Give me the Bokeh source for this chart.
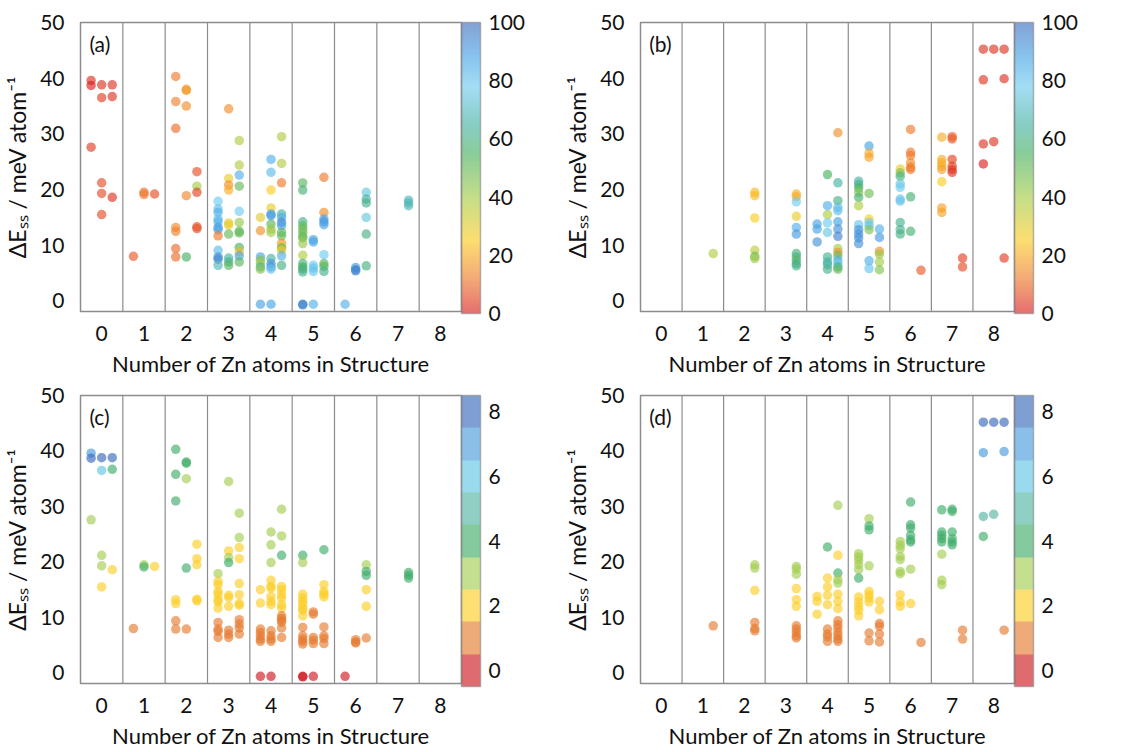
from bokeh.plotting import figure
from bokeh.models import (ColumnDataSource, LinearColorMapper, ColorBar, FixedTicker,
                          Span, Label, Range1d)
from bokeh.layouts import row, column
from bokeh.embed import file_html
from bokeh.resources import INLINE

# ---------------- data: panels (a) and (c) share positions ----------------
ac_zn = [
    0, 0, 0, 0, 0, 0, 0, 0, 0, 0, 0,
    1, 1, 1, 1,
    2, 2, 2, 2, 2, 2, 2, 2, 2, 2, 2, 2, 2, 2, 2, 2, 2,
    3, 3, 3, 3, 3, 3, 3, 3, 3, 3, 3, 3,
    3, 3, 3, 3, 3, 3, 3, 3, 3, 3,
    3, 3, 3, 3, 3, 3, 3, 3, 3, 3, 3, 3,
    4, 4, 4, 4, 4, 4, 4, 4,
    4, 4, 4, 4, 4, 4, 4, 4, 4, 4, 4, 4, 4, 4,
    4, 4, 4, 4, 4, 4, 4, 4, 4, 4, 4, 4, 4, 4, 4,
    5, 5, 5, 5, 5, 5, 5, 5, 5, 5, 5, 5, 5, 5, 5, 5,
    5, 5, 5, 5, 5, 5,
    5, 5, 5, 5, 5, 5, 5, 5, 5,
    6, 6, 6, 6, 6, 6, 6, 6, 6, 6,
    7, 7, 7,
]
ac_off = [
    -1, -1, -1, 0, 0, 0, 0, 0, 1, 1, 1,
    -1, 0, 0, 1,
    -1, -1, -1, -1, -1, -1, -1, 0, 0, 0, 0, 0, 1, 1, 1, 1, 1,
    -1, -1, -1, -1, -1, -1, -1, -1, -1, -1, -1, -1,
    0, 0, 0, 0, 0, 0, 0, 0, 0, 0,
    1, 1, 1, 1, 1, 1, 1, 1, 1, 1, 1, 1,
    -1, -1, -1, -1, -1, -1, -1, -1,
    0, 0, 0, 0, 0, 0, 0, 0, 0, 0, 0, 0, 0, 0,
    1, 1, 1, 1, 1, 1, 1, 1, 1, 1, 1, 1, 1, 1, 1,
    -1, -1, -1, -1, -1, -1, -1, -1, -1, -1, -1, -1, -1, -1, -1, -1,
    0, 0, 0, 0, 0, 0,
    1, 1, 1, 1, 1, 1, 1, 1, 1,
    -1, 0, 0, 0, 1, 1, 1, 1, 1, 1,
    1, 1, 1,
]
ac_e = [
    39.6, 38.7, 27.6, 38.8, 36.5, 21.2, 19.3, 15.5, 38.8, 36.7, 18.6,
    8.0, 19.5, 19.1, 19.2,
    40.3, 35.8, 31.0, 13.2, 12.5, 9.4, 7.9, 38.0, 37.8, 35.0, 18.9, 7.9, 23.2, 20.6, 19.5, 13.3, 13.0,
    17.9, 16.5, 15.9, 14.7, 14.2, 13.2, 12.8, 11.7, 9.1, 7.9, 7.5, 6.4,
    34.5, 22.0, 20.8, 19.9, 14.0, 13.6, 12.0, 7.7, 7.0, 6.4,
    28.8, 24.4, 22.6, 20.6, 16.1, 14.1, 12.5, 12.2, 9.6, 8.8, 8.1, 7.0,
    15.0, 12.6, 7.9, 7.3, 6.7, 6.1, 5.7, -0.6,
    25.4, 23.1, 19.9, 16.7, 15.6, 15.3, 13.8, 12.9, 12.3, 7.6, 6.7, 6.1, 5.7, -0.6,
    29.5, 24.7, 21.2, 15.6, 15.0, 14.1, 13.5, 12.3, 11.7, 10.3, 9.8, 9.5, 9.1, 8.1, 6.4,
    21.2, 19.9, 14.2, 13.5, 12.9, 12.3, 11.6, 11.3, 10.3, 8.2, 6.7, 6.1, 5.7, 5.2, -0.6, -0.7,
    11.0, 10.6, 6.4, 5.9, 5.3, -0.6,
    22.2, 15.9, 14.7, 14.2, 13.7, 8.3, 6.7, 6.2, 5.3,
    -0.6, 6.0, 5.6, 5.4, 19.5, 18.3, 17.6, 15.0, 12.0, 6.3,
    18.1, 17.6, 17.1,
]
ac_pct = [
    3, 0, 4, 3, 4, 6, 6, 6, 3, 3, 3,
    8, 10, 12, 6,
    12, 13, 10, 14, 13, 10, 10, 16, 17, 15, 14, 55, 6, 40, 5, 7, 7,
    78, 82, 85, 82, 85, 90, 88, 12, 82, 92, 95, 68,
    15, 28, 15, 20, 30, 28, 50, 65, 62, 52,
    38, 38, 85, 50, 78, 42, 52, 50, 55, 22, 88, 52,
    30, 15, 88, 45, 40, 65, 45, 88,
    85, 82, 25, 28, 88, 90, 52, 42, 40, 65, 90, 92, 80, 88,
    38, 38, 12, 65, 85, 95, 88, 52, 50, 15, 25, 60, 25, 85, 60,
    52, 58, 62, 50, 50, 48, 50, 48, 42, 38, 60, 55, 55, 62, 95, 95,
    88, 88, 78, 80, 80, 85,
    12, 15, 88, 92, 88, 78, 52, 52, 62,
    85, 90, 95, 95, 75, 65, 62, 75, 60, 60,
    68, 68, 68,
]
ac_n = [
    7, 8, 3, 8, 6, 3, 3, 2, 8, 4, 2,
    1, 3, 4, 2,
    4, 4, 4, 2, 2, 1, 1, 4, 4, 3, 4, 1, 2, 2, 2, 2, 2,
    3, 2, 2, 2, 2, 2, 2, 2, 1, 1, 1, 1,
    3, 2, 3, 4, 2, 2, 2, 1, 1, 1,
    3, 3, 2, 2, 2, 2, 2, 2, 1, 1, 1, 1,
    2, 2, 1, 1, 1, 1, 1, 0,
    3, 3, 3, 2, 2, 2, 2, 2, 2, 1, 1, 1, 1, 0,
    3, 3, 4, 2, 2, 2, 2, 2, 2, 1, 1, 1, 1, 1, 1,
    4, 3, 2, 2, 2, 2, 2, 2, 2, 1, 1, 1, 1, 1, 0, 0,
    1, 1, 1, 1, 1, 0,
    4, 2, 2, 2, 2, 1, 1, 1, 1,
    0, 1, 1, 1, 3, 4, 4, 2, 2, 1,
    4, 4, 4,
]

# ---------------- data: panels (b) and (d) share positions ----------------
bd_zn = [
    1,
    2, 2, 2, 2, 2, 2,
    3, 3, 3, 3, 3, 3, 3, 3, 3, 3, 3,
    4, 4, 4,
    4, 4, 4, 4, 4, 4, 4, 4, 4,
    4, 4, 4, 4, 4, 4, 4, 4, 4, 4, 4, 4, 4, 4, 4,
    5, 5, 5, 5, 5, 5, 5, 5, 5, 5, 5,
    5, 5, 5, 5, 5, 5, 5, 5, 5, 5,
    5, 5, 5, 5, 5, 5,
    6, 6, 6, 6, 6, 6, 6, 6, 6, 6,
    6, 6, 6, 6, 6, 6, 6, 6,
    6,
    7, 7, 7, 7, 7, 7, 7, 7,
    7, 7, 7, 7, 7, 7,
    7, 7,
    8, 8, 8, 8,
    8, 8,
    8, 8, 8,
]
bd_off = [
    1,
    1, 1, 1, 1, 1, 1,
    1, 1, 1, 1, 1, 1, 1, 1, 1, 1, 1,
    -1, -1, -1,
    0, 0, 0, 0, 0, 0, 0, 0, 0,
    1, 1, 1, 1, 1, 1, 1, 1, 1, 1, 1, 1, 1, 1, 1,
    -1, -1, -1, -1, -1, -1, -1, -1, -1, -1, -1,
    0, 0, 0, 0, 0, 0, 0, 0, 0, 0,
    1, 1, 1, 1, 1, 1,
    -1, -1, -1, -1, -1, -1, -1, -1, -1, -1,
    0, 0, 0, 0, 0, 0, 0, 0,
    1,
    -1, -1, -1, -1, -1, -1, -1, -1,
    0, 0, 0, 0, 0, 0,
    1, 1,
    -1, -1, -1, -1,
    0, 0,
    1, 1, 1,
]
bd_e = [
    8.5,
    19.5, 18.9, 14.9, 9.1, 8.0, 7.6,
    19.2, 18.7, 17.8, 15.2, 13.2, 12.0, 8.5, 7.9, 7.3, 6.7, 6.3,
    13.8, 12.9, 10.6,
    22.7, 17.1, 15.5, 14.0, 12.3, 7.9, 7.0, 6.5, 5.7,
    30.2, 21.2, 18.0, 16.8, 16.2, 14.2, 12.9, 11.6, 9.4, 8.7, 8.1, 7.3, 6.7, 6.1, 5.7,
    21.5, 20.9, 20.3, 19.5, 18.6, 17.1, 13.7, 12.8, 12.0, 11.3, 10.3,
    27.8, 26.5, 25.8, 19.3, 14.7, 14.1, 13.5, 12.8, 7.2, 5.8,
    12.9, 11.4, 8.9, 8.4, 7.0, 5.6,
    23.7, 23.0, 22.4, 21.0, 20.4, 18.3, 17.9, 14.1, 12.8, 12.0,
    30.8, 26.7, 26.1, 24.8, 24.0, 23.6, 18.7, 12.5,
    5.5,
    29.4, 25.4, 24.8, 24.2, 23.6, 21.4, 16.7, 15.9,
    29.5, 29.1, 25.4, 24.2, 23.6, 23.1,
    7.7, 6.1,
    45.2, 39.7, 28.2, 24.6,
    45.2, 28.6,
    45.2, 39.9, 7.7,
]
bd_pct = [
    38,
    22, 22, 25, 35, 50, 40,
    20, 20, 78, 28, 85, 90, 58, 62, 52, 62, 60,
    88, 88, 92,
    55, 85, 38, 78, 75, 62, 65, 65, 62,
    15, 65, 60, 82, 82, 88, 92, 95, 40, 15, 50, 85, 80, 62, 50,
    65, 62, 55, 45, 58, 38, 80, 92, 92, 92, 92,
    88, 20, 18, 48, 25, 78, 80, 45, 85, 80,
    85, 90, 15, 42, 40, 45,
    28, 45, 60, 75, 78, 80, 80, 62, 62, 60,
    12, 12, 12, 15, 12, 12, 58, 58,
    8,
    20, 20, 20, 20, 18, 25, 18, 18,
    8, 8, 5, 5, 4, 3,
    5, 6,
    3, 3, 3, 0,
    3, 3,
    3, 3, 4,
]
bd_n = [
    1,
    3, 3, 2, 1, 1, 1,
    3, 3, 3, 2, 2, 2, 1, 1, 1, 1, 1,
    2, 2, 2,
    4, 2, 2, 2, 2, 1, 1, 1, 1,
    3, 2, 4, 3, 3, 2, 2, 2, 1, 1, 1, 1, 1, 1, 1,
    3, 3, 3, 3, 3, 4, 2, 2, 2, 2, 2,
    3, 4, 4, 3, 2, 2, 2, 2, 1, 1,
    2, 2, 1, 1, 1, 1,
    3, 3, 3, 3, 3, 3, 3, 2, 2, 2,
    4, 4, 4, 4, 4, 4, 3, 2,
    1,
    4, 4, 4, 4, 4, 3, 3, 3,
    4, 4, 4, 4, 4, 4,
    1, 1,
    8, 7, 5, 4,
    8, 5,
    8, 7, 1,
]

x_ticks = [0, 1, 2, 3, 4, 5, 6, 7, 8]
y_ticks = [0, 10, 20, 30, 40, 50]
pct_ticks = [0, 20, 40, 60, 80, 100]
n_ticks = [0, 2, 4, 6, 8]
x_title = "Number of Zn atoms in Structure"
y_title = "ΔEₛₛ / meV atom⁻¹"

for lst in (ac_off, ac_e, ac_pct, ac_n):
    assert len(lst) == len(ac_zn), (len(lst), len(ac_zn))
for lst in (bd_off, bd_e, bd_pct, bd_n):
    assert len(lst) == len(bd_zn), (len(lst), len(bd_zn))

# ---------------- colour maps ----------------
stops = [(0, (217, 30, 30)), (12, (238, 123, 43)), (25, (252, 203, 33)),
         (40, (163, 203, 70)), (55, (70, 177, 97)), (65, (70, 177, 163)),
         (78, (110, 203, 238)), (88, (70, 163, 230)), (100, (60, 110, 190))]


def interp_palette(stops, n=256):
    pal = []
    for i in range(n):
        v = 100.0 * i / (n - 1)
        for (a, ca), (b, cb) in zip(stops[:-1], stops[1:]):
            if a <= v <= b:
                t = (v - a) / (b - a)
                c = [int(round(ca[k] + t * (cb[k] - ca[k]))) for k in range(3)]
                pal.append("#%02x%02x%02x" % tuple(c))
                break
    return pal


cont_palette = interp_palette(stops)
disc_palette = ["#cd161e", "#e67a2f", "#fccd26", "#a3cd50", "#3fac69",
                "#50b4a3", "#61c5e6", "#489bde", "#3769bc"]

ALPHA = 0.64
FONT = "Lato"
GRAY = "#8c8c8c"


def make_panel(zn, off, e, cval, mapper, cticks, letter, width, height,
               bl, br, bt, bb):
    xs = [z + 0.25 * o for z, o in zip(zn, off)]
    src = ColumnDataSource(dict(x=xs, e=e, c=cval))
    p = figure(width=width, height=height, x_range=Range1d(-0.5, 8.5),
               y_range=Range1d(-1.9, 50), output_backend="svg",
               toolbar_location=None, min_border_left=bl, min_border_right=br,
               min_border_top=bt, min_border_bottom=bb)
    p.xgrid.visible = False
    p.ygrid.visible = False
    p.outline_line_color = GRAY
    p.outline_line_width = 1.5
    for xv in [0.5, 1.5, 2.5, 3.5, 4.5, 5.5, 6.5, 7.5]:
        p.add_layout(Span(location=xv, dimension="height", line_color=GRAY,
                          line_width=1.2, level="underlay"))
    p.scatter("x", "e", source=src, size=9.5,
              fill_color={"field": "c", "transform": mapper},
              fill_alpha=ALPHA, line_color=None)
    for ax in (p.xaxis[0], p.yaxis[0]):
        ax.axis_line_color = None
        ax.major_tick_line_color = None
        ax.minor_tick_line_color = None
        ax.major_label_text_font = FONT
        ax.major_label_text_font_size = "21px"
        ax.major_label_text_color = "#111111"
        ax.axis_label_text_font = FONT
        ax.axis_label_text_font_size = "22px"
        ax.axis_label_text_font_style = "normal"
        ax.axis_label_text_color = "#111111"
    p.yaxis.axis_label_text_font_size = "23px"
    p.xaxis.ticker = FixedTicker(ticks=x_ticks)
    p.yaxis.ticker = FixedTicker(ticks=y_ticks)
    p.xaxis.major_label_standoff = 8
    p.yaxis.major_label_standoff = 10
    p.xaxis.axis_label = x_title
    p.yaxis.axis_label = y_title
    p.xaxis.axis_label_standoff = 6
    p.yaxis.axis_label_standoff = 6

    cb = ColorBar(color_mapper=mapper, ticker=FixedTicker(ticks=cticks),
                  width=19, height=291, scale_alpha=ALPHA,
                  bar_line_color=GRAY, bar_line_width=1.5,
                  major_tick_line_color=None, minor_tick_line_color=None,
                  label_standoff=8, major_label_text_font=FONT,
                  major_label_text_font_size="21px",
                  major_label_text_color="#111111",
                  border_line_color=None, background_fill_color=None,
                  margin=4, padding=0)
    p.add_layout(cb, "right")
    p.add_layout(Label(x=-0.29, y=46.2, text=letter, text_font=FONT,
                       text_font_size="21px", text_baseline="middle",
                       text_align="left", text_color="#111111"))
    return p


map_pct = LinearColorMapper(palette=cont_palette, low=0, high=100)
map_n = LinearColorMapper(palette=disc_palette, low=-0.5, high=8.5)

pa = make_panel(ac_zn, ac_off, ac_e, ac_pct, map_pct, pct_ticks, "(a)",
                560, 379, 80, 99, 22, 66)
pb = make_panel(bd_zn, bd_off, bd_e, bd_pct, map_pct, pct_ticks, "(b)",
                561, 379, 80, 107, 22, 66)
pc = make_panel(ac_zn, ac_off, ac_e, ac_n, map_n, n_ticks, "(c)",
                560, 372, 80, 99, 16, 65)
pd = make_panel(bd_zn, bd_off, bd_e, bd_n, map_n, n_ticks, "(d)",
                561, 372, 80, 107, 16, 65)

layout = column(row(pa, pb, spacing=0), row(pc, pd, spacing=0), spacing=0)
open("out.html", "w").write(file_html(layout, INLINE))
